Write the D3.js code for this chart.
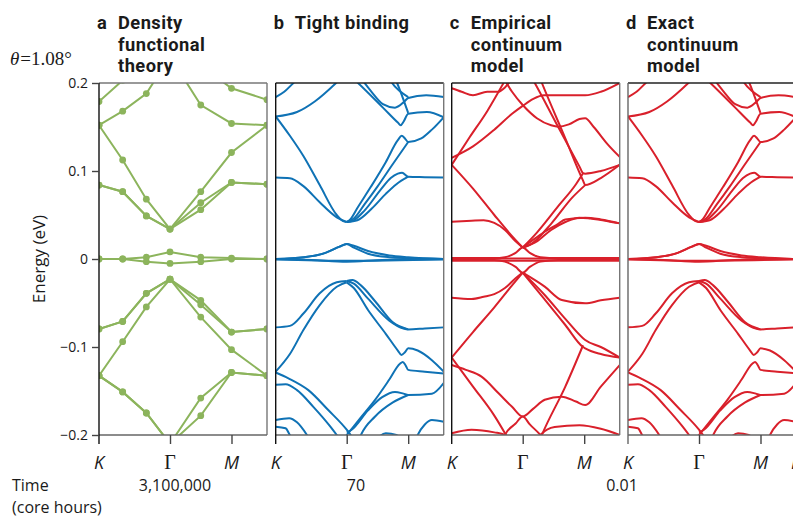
<!DOCTYPE html>
<html>
<head>
<meta charset="utf-8">
<script src="https://cdn.jsdelivr.net/npm/d3@7"></script>
<style>
  html, body { margin: 0; padding: 0; background: #fff; }
  svg { display: block; }
  .title { font-family: Roboto, "Open Sans", sans-serif; font-weight: 700; font-size: 18.3px; letter-spacing: 0.45px; fill: #1a1a1a; }
  .lbl { font-family: "Open Sans", "Noto Sans", sans-serif; fill: #1a1a1a; }
</style>
</head>
<body>
<script>
// path K -> Γ -> M -> K, in units of |KΓ|
const kTicks = [0, 1, 1.866, 2.366];
const kLabels = ['K', 'Γ', 'M', 'K'];
const yTicks = [0.2, 0.1, 0, -0.1, -0.2];

// a: DFT points
const dftK = [0, 1 / 3, 2 / 3, 1, 1.433, 1.866, 2.366];
const dftBands = [
  [0.179, 0.203, 0.24, 0.26, 0.22, 0.194, 0.181],
  [0.152, 0.168, 0.188, 0.23, 0.175, 0.154, 0.152],
  [0.152, 0.1125, 0.068, 0.034, 0.0765, 0.121, 0.152],
  [0.084, 0.0765, 0.049, 0.034, 0.064, 0.087, 0.085],
  [0.084, 0.0765, 0.049, 0.034, 0.056, 0.087, 0.085],
  [0, 0, 0.002, 0.008, 0.002, 0.001, 0],
  [0, 0, -0.003, -0.005, -0.003, 0, 0],
  [-0.0795, -0.071, -0.039, -0.023, -0.047, -0.083, -0.0795],
  [-0.0795, -0.071, -0.039, -0.023, -0.052, -0.083, -0.0795],
  [-0.1326, -0.094, -0.0545, -0.023, -0.066, -0.103, -0.1326],
  [-0.1326, -0.151, -0.175, -0.21, -0.178, -0.129, -0.1326],
  [-0.1326, -0.151, -0.175, -0.21, -0.158, -0.129, -0.1326]
];

// b: tight binding, [k, E]
const tbBands = [
  [[0, 0.184], [0.12, 0.19], [0.25, 0.2], [0.5, 0.215], [1, 0.228], [1.16, 0.21], [1.35, 0.19], [1.51, 0.176], [1.68, 0.172], [1.8, 0.178], [1.866, 0.183], [2.12, 0.186], [2.366, 0.184]],
  [[0, 0.162], [0.3, 0.167], [0.55, 0.179], [0.85, 0.2], [1, 0.212], [1.16, 0.2], [1.51, 0.172], [1.72, 0.155], [1.76, 0.152], [1.8, 0.156], [1.866, 0.165], [2.13, 0.167], [2.366, 0.161]],
  [[1.55, 0.215], [1.64, 0.2], [1.76, 0.19], [1.866, 0.184]],
  [[1.65, 0.21], [1.71, 0.2], [1.79, 0.183], [1.866, 0.166]],
  [[1, 0.042], [1.05, 0.045], [1.15, 0.058], [1.34, 0.082], [1.55, 0.11], [1.72, 0.135], [1.775, 0.14], [1.82, 0.137], [1.866, 0.133], [2.05, 0.137], [2.2, 0.147], [2.366, 0.161]],
  [[1, 0.042], [1.1, 0.046], [1.25, 0.062], [1.43, 0.082], [1.65, 0.108], [1.866, 0.133]],
  [[1, 0.042], [1.1, 0.044], [1.25, 0.055], [1.49, 0.08], [1.62, 0.092], [1.72, 0.097], [1.78, 0.098], [1.866, 0.0935], [2.1, 0.093], [2.366, 0.0925]],
  [[1, 0.042], [1.15, 0.044], [1.35, 0.057], [1.55, 0.074], [1.7, 0.085], [1.866, 0.0935]],
  [[0, 0.162], [0.2, 0.14], [0.39, 0.117], [0.62, 0.084], [0.86, 0.05], [0.95, 0.043], [1, 0.042]],
  [[0, 0.0925], [0.2, 0.0917], [0.39, 0.0828], [0.62, 0.0644], [0.86, 0.0473], [1, 0.042]],
  [[0, 0], [0.4, 0.002], [0.7, 0.007], [0.9, 0.014], [1, 0.017], [1.1, 0.015], [1.3, 0.009], [1.6, 0.004], [1.866, 0.002], [2.366, 0]],
  [[0, 0], [0.4, 0.002], [0.7, 0.007], [0.9, 0.014], [1, 0.017], [1.1, 0.013], [1.3, 0.006], [1.6, 0.002], [1.866, 0.001], [2.366, 0]],
  [[0, 0], [0.5, -0.001], [1, -0.003], [1.5, -0.001], [2.366, 0]],
  [[0, -0.0005], [1, -0.002], [2.366, -0.0005]],
  [[0, -0.128], [0.2, -0.108], [0.39, -0.0807], [0.62, -0.0523], [0.86, -0.0315], [1, -0.0265]],
  [[0, -0.0777], [0.2, -0.076], [0.39, -0.062], [0.62, -0.039], [0.86, -0.0265], [1, -0.025]],
  [[1, -0.025], [1.1, -0.028], [1.3, -0.045], [1.6, -0.07], [1.8, -0.079], [1.866, -0.08], [2.1, -0.079], [2.366, -0.0777]],
  [[1, -0.025], [1.08, -0.024], [1.2, -0.03], [1.4, -0.048], [1.65, -0.072], [1.866, -0.08]],
  [[1, -0.0265], [1.1, -0.033], [1.3, -0.058], [1.55, -0.085], [1.72, -0.104], [1.77, -0.109], [1.82, -0.106], [1.866, -0.1015], [2, -0.104], [2.2, -0.115], [2.366, -0.128]],
  [[0.97, -0.203], [1.2, -0.18], [1.4, -0.16], [1.6, -0.137], [1.75, -0.119], [1.79, -0.117], [1.83, -0.121], [1.866, -0.126], [2.1, -0.128], [2.366, -0.13]],
  [[1, -0.197], [1.07, -0.194], [1.3, -0.172], [1.5, -0.157], [1.68, -0.151], [1.8, -0.153], [1.866, -0.1545], [2.2, -0.153], [2.366, -0.141]],
  [[1.15, -0.21], [1.2, -0.2], [1.4, -0.179], [1.65, -0.163], [1.866, -0.1545]],
  [[0, -0.129], [0.18, -0.1356], [0.46, -0.149], [0.74, -0.1716], [1, -0.194], [1.1, -0.205]],
  [[0, -0.143], [0.14, -0.1424], [0.3, -0.149], [0.53, -0.168], [0.77, -0.1905], [0.86, -0.2], [0.95, -0.21]],
  [[0, -0.183], [0.19, -0.181], [0.3, -0.1856], [0.44, -0.2], [0.55, -0.215]],
  [[0, -0.1905], [0.14, -0.1924], [0.2, -0.2], [0.3, -0.21]],
  [[1.4, -0.206], [1.55, -0.198], [1.7, -0.2], [1.8, -0.206]],
  [[1.95, -0.21], [2, -0.2], [2.1, -0.188], [2.2, -0.183], [2.366, -0.185]]
];

// c: empirical continuum model
const empBands = [
  [[0, 0.194], [0.14, 0.19], [0.3, 0.186], [0.5, 0.19], [0.65, 0.19], [0.75, 0.195], [0.85, 0.205]],
  [[0, 0.107], [0.25, 0.138], [0.5, 0.168], [0.73, 0.2], [0.9, 0.225]],
  [[0, 0.115], [0.3, 0.128], [0.6, 0.147], [0.85, 0.165], [1, 0.174], [1.15, 0.182], [1.3, 0.186], [1.6, 0.186], [1.88, 0.186], [2.1, 0.19], [2.366, 0.2]],
  [[0.7, 0.21], [0.85, 0.19], [1, 0.175], [1.2, 0.16], [1.4, 0.152], [1.5, 0.1504], [1.65, 0.153], [1.8, 0.159], [1.88, 0.16], [2, 0.15], [2.2, 0.13], [2.366, 0.116]],
  [[1.1, 0.21], [1.17, 0.2], [1.5, 0.15], [1.8, 0.105], [1.85, 0.0975], [1.88, 0.097], [2.1, 0.1], [2.366, 0.107]],
  [[1.22, 0.21], [1.27, 0.2], [1.6, 0.137], [1.85, 0.089], [1.88, 0.084], [2.1, 0.092], [2.366, 0.107]],
  [[1, 0.013], [1.2, 0.03], [1.5, 0.06], [1.75, 0.085], [1.85, 0.0975]],
  [[1, 0.013], [1.1, 0.016], [1.4, 0.04], [1.7, 0.07], [1.88, 0.084]],
  [[1, 0.013], [1.15, 0.022], [1.31, 0.031], [1.5, 0.04], [1.6, 0.045], [1.88, 0.047], [2.1, 0.045], [2.366, 0.0405]],
  [[1, 0.013], [1.2, 0.02], [1.4, 0.033], [1.6, 0.042], [1.8, 0.047], [1.95, 0.046], [2.2, 0.043], [2.366, 0.0405]],
  [[0, 0.0424], [0.28, 0.0435], [0.45, 0.044], [0.6, 0.041], [0.75, 0.033], [0.9, 0.02], [1, 0.013]],
  [[0, 0.107], [0.3, 0.08], [0.6, 0.05], [0.85, 0.026], [1, 0.013]],
  [[0, 0.001], [0.6, 0.001], [0.75, 0.002], [0.9, 0.007], [1, 0.013], [1.1, 0.007], [1.25, 0.002], [1.5, 0.001], [2.366, 0.001]],
  [[0, -0.001], [0.6, -0.001], [0.75, -0.003], [0.9, -0.009], [1, -0.0155], [1.1, -0.009], [1.25, -0.003], [1.5, -0.001], [2.366, -0.001]],
  [[0, 0], [1, 0.0005], [2.366, 0]],
  [[0, -0.002], [1, -0.002], [2.366, -0.002]],
  [[0, -0.112], [0.3, -0.083], [0.6, -0.055], [0.85, -0.03], [1, -0.0155]],
  [[0, -0.044], [0.28, -0.0455], [0.45, -0.043], [0.6, -0.04], [0.75, -0.033], [0.9, -0.022], [1, -0.0155]],
  [[1, -0.0155], [1.31, -0.0314], [1.55, -0.0466], [1.88, -0.0504], [2.1, -0.047], [2.366, -0.044]],
  [[1, -0.0155], [1.3, -0.04], [1.6, -0.068], [1.85, -0.09], [1.88, -0.092], [2.1, -0.1], [2.366, -0.112]],
  [[1, -0.0155], [1.3, -0.045], [1.6, -0.075], [1.85, -0.1], [1.88, -0.1015], [2.1, -0.108], [2.366, -0.112]],
  [[0, -0.112], [0.3, -0.145], [0.6, -0.178], [0.75, -0.198], [0.8, -0.205]],
  [[0, -0.1205], [0.2, -0.126], [0.42, -0.1337], [0.66, -0.1526], [0.85, -0.168], [1, -0.179], [1.15, -0.17], [1.31, -0.16], [1.55, -0.1564], [1.75, -0.162], [1.88, -0.166], [2.1, -0.145], [2.366, -0.1205]],
  [[0, -0.198], [0.28, -0.194], [0.6, -0.197], [0.75, -0.2], [0.85, -0.205]],
  [[0.7, -0.21], [0.75, -0.2], [0.9, -0.187], [1, -0.179], [1.1, -0.188], [1.25, -0.2], [1.3, -0.205]],
  [[1.2, -0.205], [1.25, -0.2], [1.45, -0.191], [1.8, -0.189], [2.1, -0.193], [2.366, -0.2]],
  [[1.22, -0.21], [1.27, -0.2], [1.6, -0.145], [1.85, -0.098]]
];

// d: exact continuum model (indistinguishable from b at this scale)
const exactBands = tbBands;

const panels = [
  { id: 'a', x0: 99, title: ['Density', 'functional', 'theory'], color: '#8cb45c', dots: true, bands: dftBands, time: '3,100,000', tx: 175 },
  { id: 'b', x0: 275.7, title: ['Tight binding'], color: '#0f72b5', bands: tbBands, time: '70', tx: 356 },
  { id: 'c', x0: 451.7, title: ['Empirical', 'continuum', 'model'], color: '#d9202b', bands: empBands, time: '0.01', tx: 622 },
  { id: 'd', x0: 628, title: ['Exact', 'continuum', 'model'], color: '#d9202b', bands: exactBands }
];

const W = 793, H = 518;
const PW = 168, TOP = 83, BOT = 435;

const svg = d3.select('body').append('svg').attr('width', W).attr('height', H);

const y = d3.scaleLinear().domain([-0.2, 0.2]).range([BOT, TOP]);

panels.forEach((p, pi) => {
  const x = d3.scaleLinear().domain([0, 2.366]).range([p.x0, p.x0 + PW]);
  const g = svg.append('g');

  g.append('clipPath').attr('id', 'clip-' + p.id)
    .append('rect').attr('x', p.x0).attr('y', TOP).attr('width', PW).attr('height', BOT - TOP);

  const plot = g.append('g').attr('clip-path', `url(#clip-${p.id})`);

  if (p.dots) {
    const line = d3.line().x((d, i) => x(dftK[i])).y(d => y(d));
    p.bands.forEach(b => {
      plot.append('path').attr('d', line(b))
        .attr('fill', 'none').attr('stroke', p.color).attr('stroke-width', 2);
    });
    p.bands.forEach(b => {
      plot.selectAll(null).data(b).enter().append('circle')
        .attr('cx', (d, i) => x(dftK[i])).attr('cy', d => y(d))
        .attr('r', 3.4).attr('fill', p.color);
    });
  } else {
    const line = d3.line().x(d => x(d[0])).y(d => y(d[1])).curve(d3.curveMonotoneX);
    p.bands.forEach(b => {
      plot.append('path').attr('d', line(b))
        .attr('fill', 'none').attr('stroke', p.color).attr('stroke-width', 2)
        .attr('stroke-linejoin', 'round');
    });
  }

  // frame
  g.append('line').attr('x1', p.x0).attr('x2', p.x0 + PW).attr('y1', TOP).attr('y2', TOP)
    .attr('stroke', pi === 0 ? '#777' : '#222').attr('stroke-width', 1.4);
  g.append('line').attr('x1', p.x0 + PW).attr('x2', p.x0 + PW).attr('y1', TOP).attr('y2', BOT)
    .attr('stroke', '#777').attr('stroke-width', 1.4);
  g.append('line').attr('x1', p.x0).attr('x2', p.x0 + PW).attr('y1', BOT).attr('y2', BOT)
    .attr('stroke', '#666').attr('stroke-width', 1.4);
  g.append('line').attr('x1', p.x0).attr('x2', p.x0).attr('y1', TOP).attr('y2', BOT + 9)
    .attr('stroke', pi === 3 ? '#666' : '#111').attr('stroke-width', 1.4);

  // k ticks
  const xAxis = d3.axisBottom(x).tickValues(kTicks.slice(1, 3)).tickSize(9).tickFormat('');
  const ax = g.append('g').attr('transform', `translate(0,${BOT})`).call(xAxis);
  ax.select('.domain').remove();
  ax.selectAll('line').attr('stroke', '#444').attr('stroke-width', 1.4);

  kTicks.forEach((k, i) => {
    if (pi < 3 && i === 3) return;
    g.append('text').attr('x', x(k)).attr('y', 469)
      .attr('text-anchor', 'middle')
      .attr('font-family', i === 1 ? '"Liberation Serif", serif' : '"Open Sans", sans-serif')
      .attr('font-style', i === 1 ? 'normal' : 'italic')
      .attr('font-size', i === 1 ? 20 : 18)
      .attr('fill', '#1a1a1a')
      .text(kLabels[i]);
  });

  // title: panel letter, then the lines of the name in one block
  g.append('text').attr('class', 'title').attr('x', p.x0 - 2).attr('y', 29)
    .attr('font-size', 21).text(p.id);
  const t = g.append('text').attr('class', 'title').attr('y', 29);
  p.title.forEach((line, i) => {
    t.append('tspan').attr('x', p.x0 + 19).attr('dy', i === 0 ? 0 : 21.5).text(line);
  });

  if (p.time) {
    g.append('text').attr('class', 'lbl').attr('x', p.tx).attr('y', 491)
      .attr('text-anchor', 'middle').attr('font-size', 16).text(p.time);
  }
});

// energy axis on panel a
const yAxis = d3.axisLeft(y).tickValues(yTicks).tickSize(7).tickPadding(4)
  .tickFormat(d => d === 0 ? '0' : d3.format('.1f')(d));
const ya = svg.append('g').attr('transform', 'translate(99,0)').call(yAxis);
ya.select('.domain').remove();
ya.selectAll('line').attr('stroke', '#444').attr('stroke-width', 1.4);
ya.selectAll('text').attr('font-family', '"Open Sans", sans-serif').attr('font-size', 14).attr('fill', '#1a1a1a');

svg.append('text').attr('class', 'lbl')
  .attr('transform', 'translate(45,259) rotate(-90)')
  .attr('text-anchor', 'middle').attr('font-size', 17).text('Energy (eV)');

const th = svg.append('text').attr('x', 10).attr('y', 65)
  .attr('font-family', '"Liberation Serif", serif').attr('font-size', 19).attr('fill', '#1a1a1a');
th.append('tspan').attr('font-style', 'italic').text('θ');
th.append('tspan').text('=1.08°').attr('dx', 1);

svg.append('text').attr('class', 'lbl').attr('x', 12).attr('y', 491).attr('font-size', 16).text('Time');
svg.append('text').attr('class', 'lbl').attr('x', 12).attr('y', 513).attr('font-size', 16).text('(core hours)');
</script>
</body>
</html>
